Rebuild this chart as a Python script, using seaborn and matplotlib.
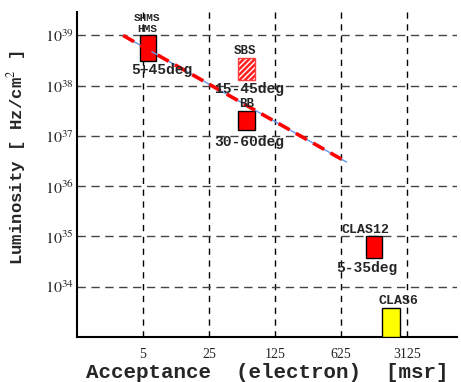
import numpy as np
import pandas as pd
import matplotlib
matplotlib.use("Agg")
import matplotlib.pyplot as plt
import seaborn as sns

# ------------------------------------------------------------------
# Daten (Akzeptanz in msr, Luminositaet als log10 Exponent)
# ------------------------------------------------------------------
detectors = ["HMS", "SBS", "BB", "CLAS12", "CLAS6"]
acc_lo = [4.65, 50.8, 50.8, 1145.0, 1727.0]
acc_hi = [6.8, 77.3, 77.3, 1727.0, 2640.0]
lumi_lo = [38.50, 38.12, 37.12, 34.57, 33.00]
lumi_hi = [39.00, 38.56, 37.50, 35.00, 33.57]
box_colors = ["red", "red", "red", "red", "yellow"]
box_hatched = [False, True, False, False, False]

trend_acc = [3.08, 720.0]
trend_lumi = [39.0, 36.48]

x_tick_values = [5, 25, 125, 625, 3125]
y_tick_exponents = [34, 35, 36, 37, 38, 39]

# Beschriftungen: Text, Akzeptanz, log10 Lumi, Schriftgroesse
label_text = ["SHMS", "HMS", "5+45deg", "SBS", "15-45deg", "BB", "30-60deg",
              "CLAS12", "5-35deg", "CLAS6"]
label_acc = [5.5, 5.5, 8.0, 60.5, 66.5, 63.5, 66.5, 1150.0, 1170.0, 2540.0]
label_lumi = [39.34, 39.13, 38.32, 38.69, 37.94, 37.64, 36.88, 35.12, 34.37, 33.72]
label_size = [8, 8, 10.5, 9, 10.5, 9, 10.5, 9.5, 10.5, 9.5]

# ------------------------------------------------------------------
# Stil
# ------------------------------------------------------------------
sns.set_theme(style="white")
plt.rcParams["font.family"] = ["Liberation Mono", "DejaVu Sans"]
plt.rcParams["mathtext.fontset"] = "stix"

log5 = lambda v: np.log(np.asarray(v, dtype=float)) / np.log(5)

fig = plt.figure(figsize=(4.61, 3.82), dpi=100)
ax = fig.add_axes([0.167, 0.118, 0.824, 0.851])

# Gitter
for xv in log5(x_tick_values):
    ax.axvline(xv, color="black", lw=1.0, ls=(0, (4.5, 4)), zorder=0)
for yv in y_tick_exponents:
    ax.axhline(yv, color="#444444", lw=1.0, ls=(0, (6, 4)), zorder=0)

# Boxen
for i, name in enumerate(detectors):
    x0, x1 = log5(acc_lo[i]), log5(acc_hi[i])
    if box_hatched[i]:
        ax.bar(x0, lumi_hi[i] - lumi_lo[i], width=x1 - x0, bottom=lumi_lo[i],
               align="edge", color="#ff2020", edgecolor="white", hatch="//////",
               lw=0, zorder=3)
        ax.bar(x0, lumi_hi[i] - lumi_lo[i], width=x1 - x0, bottom=lumi_lo[i],
               align="edge", fill=False, edgecolor="#ff4040", lw=1.0, zorder=4)
    else:
        ax.bar(x0, lumi_hi[i] - lumi_lo[i], width=x1 - x0, bottom=lumi_lo[i],
               align="edge", color=box_colors[i], edgecolor="black", lw=1.0, zorder=3)

# Trendlinie
trend = pd.DataFrame({"x": log5(trend_acc), "y": trend_lumi})
sns.lineplot(data=trend, x="x", y="y", ax=ax, color="cornflowerblue", lw=1.0, zorder=5)
sns.lineplot(data=trend, x="x", y="y", ax=ax, color="red", lw=2.6,
             ls=(0, (3.5, 2)), zorder=6)

# Texte
for t, xa, yl, fs in zip(label_text, label_acc, label_lumi, label_size):
    ax.text(log5(xa), yl, t, ha="center", va="center", fontsize=fs,
            fontweight="bold", zorder=7)

# Achsen
ax.set_xlim(0, 5.76)
ax.set_ylim(33, 39.47)
ax.set_xticks(log5(x_tick_values))
ax.set_xticklabels([str(v) for v in x_tick_values], family="Liberation Serif", fontsize=10)
ax.set_yticks(y_tick_exponents)
ax.set_yticklabels([rf"$10^{{{e}}}$" for e in y_tick_exponents], fontsize=11.5)
ax.tick_params(axis="both", direction="in", length=4, width=1, color="black")
ax.tick_params(axis="x", pad=8)
ax.tick_params(axis="y", pad=2)

for s in ["top", "right"]:
    ax.spines[s].set_visible(False)
for s in ["left", "bottom"]:
    ax.spines[s].set_color("black")
    ax.spines[s].set_linewidth(1.5)

ax.set_xlabel("Acceptance  (electron)  [msr]", fontsize=15, fontweight="bold")
ax.xaxis.label.set_va("center")
ax.xaxis.set_label_coords(0.5, -0.11)
ax.set_ylabel(r"Luminosity [ Hz/cm$^2$ ]", fontsize=12.5, fontweight="bold")
ax.yaxis.set_label_coords(-0.13, 0.55)

fig.savefig("out.png", dpi=100)
